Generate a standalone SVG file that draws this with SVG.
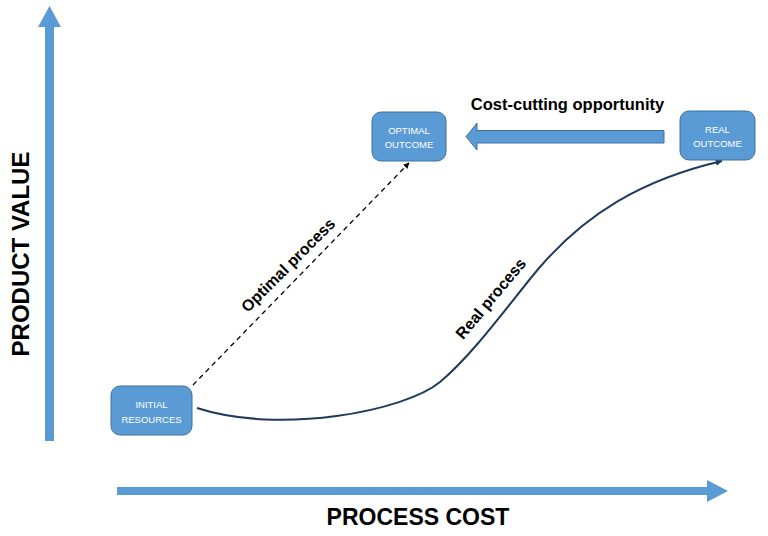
<svg xmlns="http://www.w3.org/2000/svg" width="768" height="536" viewBox="0 0 768 536">
<style>
.node rect{fill:#5b9bd5;stroke:#41719c;stroke-width:1}
.node text{fill:#fff;font-family:"Liberation Sans",Arial,sans-serif;font-size:9.5px;text-anchor:middle}
.lbl{font-family:"Liberation Sans",Arial,sans-serif;font-weight:bold;fill:#000}
.axis{fill:#5b9bd5}
</style>
<defs>
<marker id="ahDash" viewBox="0 0 10 10" refX="9" refY="5" markerWidth="6" markerHeight="6" orient="auto" markerUnits="userSpaceOnUse">
<path d="M0,0 L10,5 L0,10 Z" fill="#000"/>
</marker>
<marker id="ahReal" viewBox="0 0 10 10" refX="9" refY="5" markerWidth="7" markerHeight="7" orient="auto" markerUnits="userSpaceOnUse">
<path d="M0,0 L10,5 L0,10 Z" fill="#1f3b5c"/>
</marker>
</defs>
<g id="axes">
<path class="axis" d="M45,441 L45,27 L38,27 L49.5,6 L61,27 L54,27 L54,441 Z"/>
<path class="axis" d="M117,487 L707,487 L707,480 L728,491 L707,502 L707,495 L117,495 Z"/>
<text class="lbl" font-size="24" text-anchor="middle" transform="translate(29,254) rotate(-90)">PRODUCT VALUE</text>
<text class="lbl" font-size="23" text-anchor="middle" x="418" y="525">PROCESS COST</text>
</g>
<g id="connectors">
<path d="M664,130.5 L477,130.5 L477,123 L466,136.7 L477,150 L477,143 L664,143 Z" fill="#5b9bd5" stroke="#41719c" stroke-width="1"/>
<text class="lbl" font-size="16.5" text-anchor="middle" x="567.5" y="110">Cost-cutting opportunity</text>
<line x1="193" y1="385" x2="409" y2="163" stroke="#000" stroke-width="1.3" stroke-dasharray="5,4" marker-end="url(#ahDash)"/>
<text class="lbl" font-size="16" text-anchor="middle" transform="translate(495,302) rotate(-50)">Real process</text>
<text class="lbl" font-size="16" text-anchor="middle" transform="translate(292,269) rotate(-45)">Optimal process</text>
<path d="M197,408 C280,435 405,411 440,382 C475,353 515,296 540,267 C585,215 640,180 722,161" fill="none" stroke="#1f3b5c" stroke-width="2" marker-end="url(#ahReal)"/>
</g>
<g id="node-initial" class="node">
<rect x="111" y="386" width="81" height="49" rx="9"/>
<text x="151.5" y="407.5">INITIAL</text>
<text x="151.5" y="422.5">RESOURCES</text>
</g>
<g id="node-optimal" class="node">
<rect x="372" y="112" width="74" height="49" rx="9"/>
<text x="409" y="133.5">OPTIMAL</text>
<text x="409" y="147.5">OUTCOME</text>
</g>
<g id="node-real" class="node">
<rect x="680" y="111" width="75" height="49" rx="9"/>
<text x="717.5" y="132.5">REAL</text>
<text x="717.5" y="146.5">OUTCOME</text>
</g>
</svg>
